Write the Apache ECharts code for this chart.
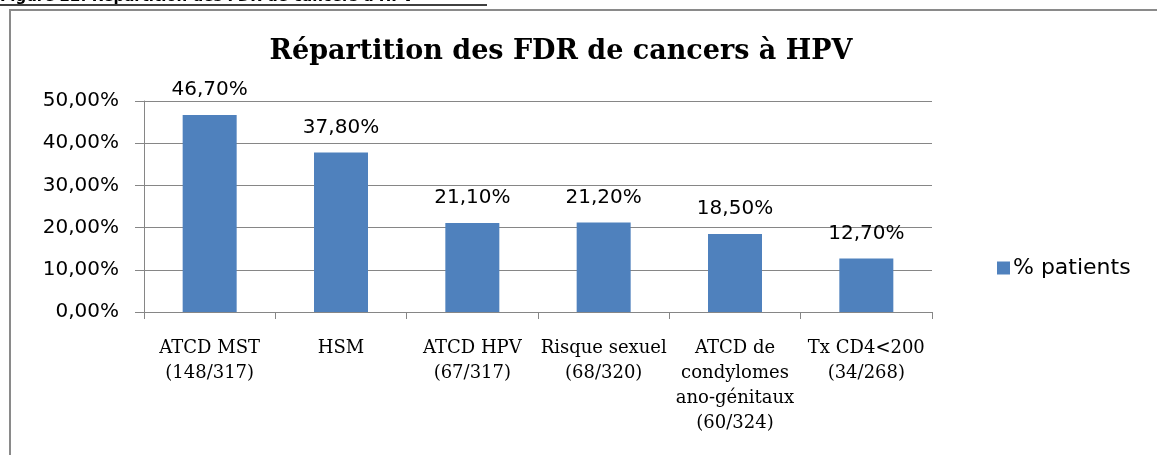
<!DOCTYPE html>
<html>
<head>
<meta charset="utf-8">
<title>Répartition des FDR de cancers à HPV</title>
<script src="https://cdn.jsdelivr.net/npm/echarts@6/dist/echarts.min.js"></script>
<style>
  html, body { margin: 0; padding: 0; background: #fff; }
  #myChart1 { width: 1157px; height: 455px; }
</style>
</head>
<body>
<div id="myChart1"></div>
<script>
// données du graphique
const categories = [
  'ATCD MST\n(148/317)',
  'HSM',
  'ATCD HPV\n(67/317)',
  'Risque sexuel\n(68/320)',
  'ATCD de\ncondylomes\nano-génitaux\n(60/324)',
  'Tx CD4<200\n(34/268)'
]
const patients = [46.7, 37.8, 21.1, 21.2, 18.5, 12.7]
const seriesName = '% patients'
const titleText = 'Répartition des FDR de cancers à HPV'
const captionText = 'Figure 22: Répartition des FDR de cancers à HPV'

// 46.7 -> "46,70%"
function pct (v) {
  return Number(v).toFixed(2).replace('.', ',') + '%'
}

const myChart1 = echarts.init(document.getElementById('myChart1'))

const optionMain1 = {
  animation: false,
  backgroundColor: '#fff',
  title: {
    text: titleText,
    left: 556,
    textAlign: 'center',
    top: 33,
    textStyle: {
      fontFamily: 'DejaVu Serif',
      fontWeight: 'bold',
      fontSize: 27,
      color: '#000'
    }
  },
  legend: {
    data: [seriesName],
    left: 997,
    top: 257,
    padding: 0,
    icon: 'rect',
    itemWidth: 13,
    itemHeight: 13,
    textStyle: {
      fontFamily: 'DejaVu Sans',
      fontSize: 22,
      color: '#000',
      padding: [0, 0, 0, -2]
    }
  },
  grid: {
    left: 144,
    right: 225,
    top: 101,
    bottom: 143
  },
  xAxis: {
    type: 'category',
    data: categories,
    axisLine: { lineStyle: { color: '#868686', width: 1 } },
    axisTick: { show: true, alignWithLabel: false, length: 7, lineStyle: { color: '#868686' } },
    axisLabel: {
      interval: 0,
      margin: 24,
      fontFamily: 'DejaVu Serif',
      fontSize: 18,
      lineHeight: 25,
      color: '#000'
    }
  },
  yAxis: {
    type: 'value',
    min: 0,
    max: 50,
    interval: 10,
    axisLine: { show: true, lineStyle: { color: '#868686', width: 1 } },
    axisTick: { show: true, length: 9, lineStyle: { color: '#868686' } },
    splitLine: { lineStyle: { color: '#868686', width: 1 } },
    axisLabel: {
      margin: 25,
      fontFamily: 'DejaVu Sans',
      fontSize: 20,
      color: '#000',
      formatter: pct
    }
  },
  series: [
    {
      name: seriesName,
      type: 'bar',
      data: patients,
      barWidth: 54,
      itemStyle: { color: '#4F81BD' },
      label: {
        show: true,
        position: 'top',
        distance: 15,
        fontFamily: 'DejaVu Sans',
        fontSize: 20,
        color: '#000',
        formatter: p => pct(p.value)
      }
    }
  ],
  graphic: [
    // cadre du graphique
    {
      type: 'rect',
      shape: { x: 10, y: 10, width: 1200, height: 500 },
      style: { fill: null, stroke: '#8a8a8a', lineWidth: 2 },
      silent: true
    },
    // légende de la figure (coupée en haut)
    {
      type: 'text',
      x: 0,
      y: 5,
      style: {
        text: captionText,
        font: 'bold 15px "DejaVu Sans"',
        fill: '#000',
        verticalAlign: 'bottom'
      },
      silent: true
    },
    {
      type: 'line',
      shape: { x1: 0, y1: 5, x2: 487, y2: 5 },
      style: { stroke: '#000', lineWidth: 1.5 },
      silent: true
    }
  ]
}

myChart1.setOption(optionMain1)
</script>
</body>
</html>
